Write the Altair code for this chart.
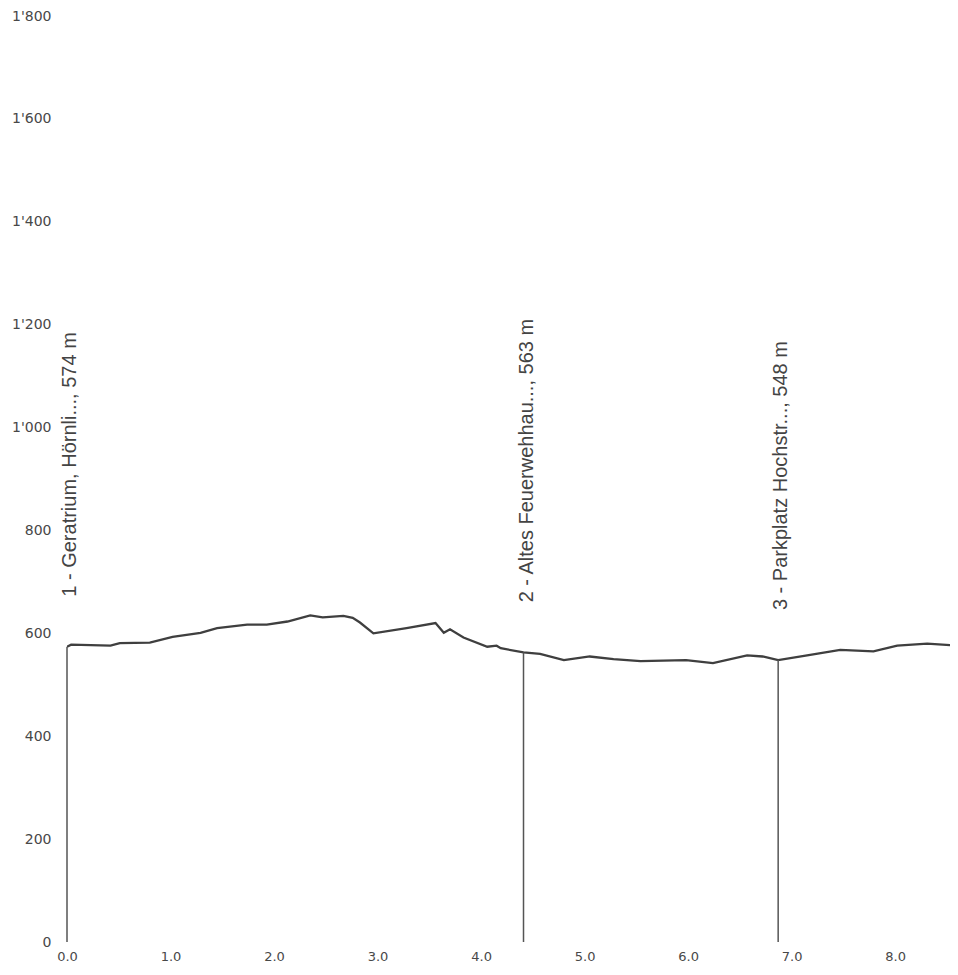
import altair as alt
import pandas as pd

# elevation profile (distance in km, elevation in m)
dist = [0.0, 0.04, 0.42, 0.51, 0.80, 1.02, 1.29, 1.45, 1.74, 1.93, 2.13, 2.35, 2.47, 2.67,
        2.76, 2.83, 2.96, 3.28, 3.56, 3.64, 3.70, 3.83, 4.06, 4.15, 4.19, 4.41, 4.57, 4.80,
        5.05, 5.28, 5.54, 5.98, 6.24, 6.57, 6.72, 6.87, 7.15, 7.47, 7.79, 8.02, 8.31, 8.61]
elev = [574, 578, 576, 581, 582, 593, 601, 610, 617, 617, 623, 635, 631, 634,
        630, 621, 600, 610, 620, 601, 608, 592, 574, 576, 571, 563, 560, 548,
        555, 550, 546, 548, 542, 557, 555, 548, 557, 568, 565, 576, 580, 576]

# waypoints
wp_dist = [0.0, 4.41, 6.87]
wp_elev = [574, 563, 548]
wp_label = ["1 - Geratrium, Hörnli..., 574 m",
            "2 - Altes Feuerwehhau..., 563 m",
            "3 - Parkplatz Hochstr..., 548 m"]

y_ticks = [0, 200, 400, 600, 800, 1000, 1200, 1400, 1600, 1800]
x_ticks = [0, 1, 2, 3, 4, 5, 6, 7, 8]

prof = pd.DataFrame({"km": dist, "m": elev})
wps = pd.DataFrame({"km": wp_dist, "m": wp_elev, "label": wp_label})

xscale = alt.Scale(domain=[0, 8.53], nice=False, zero=False)
yscale = alt.Scale(domain=[0, 1800], nice=False)

xaxis = alt.Axis(values=x_ticks, format=".1f", title=None, ticks=False, domain=False,
                 grid=False, labelPadding=8, labelFont="DejaVu Sans", labelFontSize=13,
                 labelColor="#484848", labelFlush=False, labelOverlap=False)
yaxis = alt.Axis(values=y_ticks, title=None, ticks=False, domain=False, grid=False,
                 labelPadding=16, labelFont="DejaVu Sans", labelFontSize=14,
                 labelColor="#484848", labelFlush=False, labelOverlap=False,
                 labelExpr="replace(format(datum.value, ','), ',', \"'\")")

line = alt.Chart(prof).mark_line(color="#3f3f3f", strokeWidth=2.3, clip=True).encode(
    x=alt.X("km:Q", scale=xscale, axis=xaxis),
    y=alt.Y("m:Q", scale=yscale, axis=yaxis),
)

rules = alt.Chart(wps).mark_rule(color="#555555", strokeWidth=1.5).encode(
    x=alt.X("km:Q", scale=xscale),
    y=alt.Y("m:Q", scale=yscale),
    y2=alt.datum(0),
)

labels = alt.Chart(wps).mark_text(angle=270, align="left", baseline="middle", dx=50, dy=3,
                                  fontSize=20, font="Liberation Sans",
                                  color="#444444").encode(
    x=alt.X("km:Q", scale=xscale),
    y=alt.Y("m:Q", scale=yscale),
    text="label:N",
)

chart = (line + rules + labels).properties(
    width=883, height=926,
    background="white",
    autosize=alt.AutoSizeParams(type="none"),
    padding={"left": 59, "top": 8, "right": 0, "bottom": 22},
).configure_view(strokeWidth=0, stroke="transparent")

chart.save("out.html", embed_options={"renderer": "svg", "actions": False})
